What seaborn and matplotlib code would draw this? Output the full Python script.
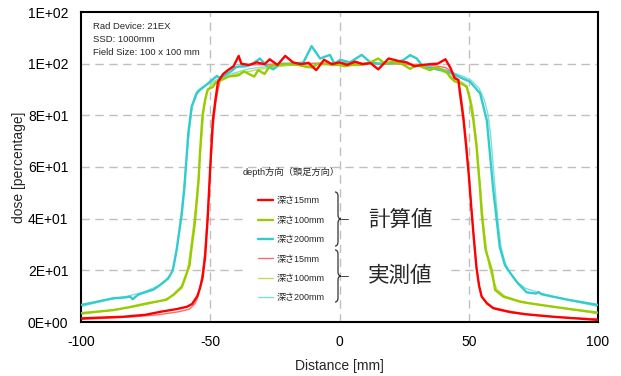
import numpy as np
import matplotlib
matplotlib.use("Agg")
import matplotlib.pyplot as plt
import seaborn as sns
from matplotlib.path import Path
from matplotlib.patches import PathPatch
from matplotlib.lines import Line2D
from matplotlib.ticker import FuncFormatter

sns.set_style("white")
plt.rcParams['font.family'] = ['Liberation Sans', 'Noto Sans CJK JP']
plt.rcParams['axes.unicode_minus'] = False

# ---- data (distance in mm, dose in %) ----
# computed (thick lines)
calc15_x = [-100, -90, -84, -75, -69, -63, -59, -57, -55, -54, -53, -52, -51, -50, -49, -48, -47, -45, -43,
            -41, -39, -38, -35, -32, -29, -27, -24, -21, -18, -15, -12, -9, -6, -3, 0, 3, 6, 9, 12, 15,
            19, 23, 26, 29, 32, 35, 38, 41, 43, 44.5, 46, 46.6, 47.3, 48, 49, 50, 51, 52, 53, 54, 55, 57,
            59.4, 66, 72, 83, 90, 100]
calc15_y = [1.4, 1.8, 2.0, 2.8, 4.0, 5.0, 5.9, 7.0, 10, 13, 17, 25, 40, 60, 78, 86, 93, 96, 97.6,
            99, 103, 100, 99.5, 100.5, 99.8, 101.7, 99.5, 103, 100.5, 99.8, 100.3, 97.5, 101.5, 99.8, 100.5, 99.5, 100.8, 99.8, 100.2, 97.8,
            102, 101, 100.5, 99, 99.5, 99.8, 100, 101.7, 98.2, 94.4, 93.7, 88.5, 83.4, 78, 68, 57, 44, 32, 21, 14, 9.8, 7.3,
            5.4, 3.9, 3.0, 2.0, 1.5, 0.8]

calc100_x = [-100, -87.5, -81, -74.6, -67, -64.3, -61, -59.1, -58, -57.2, -56, -55.2, -54.5, -54, -53, -52, -51,
             -49, -48, -46, -43, -39, -37, -33, -31.4, -29, -27, -24, -20, -16, -13, -10.5, -8.5, -5, -2, 0,
             2, 5, 8, 12, 15, 17.5, 20, 24, 27.3, 30, 35, 37.6, 41.5, 43, 44.7, 46.6, 49.2, 50.5, 51.8, 53,
             54.4, 55, 56.5, 58.9, 60.2, 63.4, 69.8, 72.4, 82.7, 90, 100]
calc100_y = [3.4, 4.6, 5.8, 7.2, 8.6, 10.5, 13.7, 18.9, 22, 29, 38, 47, 55, 65, 80, 86, 90,
             91, 92.5, 93.5, 95, 95.5, 97, 95, 97.5, 96, 99, 99.6, 99.8, 99.5, 98.8, 98.5, 100, 99.8, 99.5, 99.5,
             99, 99.5, 99.5, 100.5, 102, 100, 100.7, 100, 98, 99.5, 97.5, 98.5, 96.7, 94.5, 93.1, 92.5, 91.2, 86, 78, 68,
             51, 42, 28, 20.1, 12.4, 9.8, 7.9, 7.4, 5.9, 4.9, 3.6]

calc200_x = [-100, -94, -87.5, -83, -81, -80, -78, -75.9, -72, -69.4, -66.2, -64.5, -63, -61, -60, -58.5,
             -57.2, -55.2, -54, -50.8, -47.5, -46.2, -42, -39.8, -36, -33.5, -30.8, -28, -25.6, -23, -19, -14,
             -10.8, -7.5, -3.7, -2, 0.2, 4, 8.6, 11.8, 15, 18.3, 22, 24.7, 27.3, 29.9, 32.5, 35, 37.6, 41.5,
             44.7, 47.3, 50.5, 54.4, 57, 59.5, 62, 64, 65.3, 69, 72.4, 76, 77, 78, 82.6, 89, 100]
calc200_y = [6.6, 7.8, 9.2, 9.5, 9.8, 8.8, 10.5, 11.3, 12.5, 14.3, 16.9, 20, 28, 42, 52, 73,
             83.4, 88.5, 89.8, 92.4, 95.2, 94.5, 97, 98.8, 99, 100, 102, 99, 97.8, 100, 100, 100.4,
             106.8, 102, 103.4, 100, 101.5, 100.5, 103.4, 100.6, 100, 100, 100.5, 101.4, 103.3, 102, 98.5, 98.5, 97.8, 97,
             95.7, 94.4, 93, 88.5, 78, 51, 29, 22, 20, 15, 11.5, 11, 11.6, 10.8, 9.8, 8.5, 6.6]

# measured (thin lines)
meas15_x = [-100, -90, -80, -70, -62, -58, -56, -55, -54, -53, -52, -51, -50, -49, -48, -47, -46, -44, -41,
            -35, -20, 0, 20, 35, 41, 44, 46, 47, 48, 49, 50, 51, 52, 53, 54, 55, 57, 60, 66, 80, 90, 100]
meas15_y = [1.0, 1.5, 2.0, 2.8, 4.0, 5.0, 7.0, 9.0, 13, 19, 28, 42, 58, 74, 84, 90, 94, 97, 98.5,
            99.5, 100, 100.3, 100, 99.5, 98.5, 96.5, 93, 88, 80, 70, 58, 45, 32, 21, 14, 10, 7.0, 5.0, 3.6, 2.2, 1.6, 1.2]

meas100_x = [-100, -90, -80, -74, -68, -64, -61, -59.5, -58.5, -57.5, -56.5, -55.5, -54.5, -53.5, -52.5, -51.5,
             -50, -48, -45, -40, -35, -30, -20, 0, 20, 30, 38, 42, 45, 48, 50, 51.5, 53, 54, 55, 56, 57, 58,
             59.5, 61, 64, 70, 80, 90, 100]
meas100_y = [3.0, 4.3, 5.8, 7.0, 8.5, 10.5, 13, 17, 22, 29, 37, 46, 57, 70, 82, 88,
             91.5, 93, 94.5, 96, 97, 98, 99.3, 100, 100, 99.5, 98, 96, 94, 92.5, 89, 83, 70, 58, 46, 35, 27, 21,
             16, 12.5, 10, 8.0, 6.2, 4.8, 3.2]

meas200_x = [-100, -90, -82, -76, -70, -67, -65, -64, -63, -62, -61, -60, -59, -58, -57, -56, -55, -53, -50,
             -46, -42, -35, -25, 0, 25, 35, 40, 44, 48, 51, 54, 56, 57.5, 58.5, 59.5, 60.5, 61.5, 62.5, 64,
             66, 68, 72, 80, 90, 100]
meas200_y = [6.0, 8.5, 10, 11.5, 14, 16.5, 19, 22, 28, 35, 44, 54, 65, 75, 83, 87.5, 89.5, 91, 92.5,
             94.5, 96, 98, 99.3, 100, 100, 99, 98, 96.5, 95, 93.5, 90.5, 86, 80, 72, 60, 48, 37, 29, 23,
             19, 16, 13, 10.5, 8.2, 6.0]

depth_labels = ["深さ15mm", "深さ100mm", "深さ200mm"]
colors = ["#FF0000", "#99CC00", "#33CCCC"]
meas_colors = ["#FF6A6A", "#BEDD5A", "#7FDEDE"]

calc = [(calc15_x, calc15_y), (calc100_x, calc100_y), (calc200_x, calc200_y)]
meas = [(meas15_x, meas15_y), (meas100_x, meas100_y), (meas200_x, meas200_y)]

W, H = 621, 376
fig = plt.figure(figsize=(W / 100, H / 100), dpi=100)
ax = fig.add_axes([81 / W, 1 - 322 / H, 517 / W, 310 / H])


def fx(px):
    return px / W


def fy(py):
    return 1 - py / H


# grid (drawn first); the 20/40 lines are hidden behind the legend block
grid_kw = dict(color="#BFBFBF", lw=1.0, linestyle=(0, (6, 4)), zorder=0)
for gx in [-50, 0, 50]:
    ax.axvline(gx, **grid_kw)
for gy in [20, 40, 60, 80, 100]:
    if gy in (20, 40):
        ax.hlines(gy, -100, -37.3, **grid_kw)
        ax.hlines(gy, 43.1, 100, **grid_kw)
    else:
        ax.axhline(gy, **grid_kw)

for i in [2, 1, 0]:
    mx, my = meas[i]
    sns.lineplot(x=mx, y=my, color=meas_colors[i], lw=1.0, ax=ax, zorder=2)
for i in [2, 1, 0]:
    cx, cy = calc[i]
    sns.lineplot(x=cx, y=cy, color=colors[i], lw=1.7, ax=ax, zorder=3)

calc_handles = [Line2D([0], [0], color=c, lw=1.7) for c in colors]
meas_handles = [Line2D([0], [0], color=c, lw=1.0) for c in meas_colors]

ax.set_xlim(-100, 100)
ax.set_ylim(0, 120)
ax.set_xticks([-100, -50, 0, 50, 100])
ax.set_yticks([0, 20, 40, 60, 80, 100, 120])
ax.yaxis.set_major_formatter(FuncFormatter(lambda v, p: f"{v:.0E}"))
ax.tick_params(axis="both", direction="in", length=4, width=1, labelsize=10, colors="black", pad=9)
for s in ax.spines.values():
    s.set_color("black")
    s.set_linewidth(1.5)

ax.set_xlabel("Distance [mm]", fontsize=10)
ax.set_ylabel("dose [percentage]", fontsize=10)
ax.xaxis.set_label_coords(0.5, (322 - 359) / 310)
ax.yaxis.set_label_coords((26 - 81) / 517, 0.5)

fig.text(fx(93), fy(22), "Rad Device: 21EX\nSSD: 1000mm\nField Size: 100 x 100 mm",
         fontsize=6.8, va="top", ha="left", linespacing=1.55)

leg = ax.legend(calc_handles + meas_handles, depth_labels + depth_labels,
                title="depth方向（頭足方向）", title_fontsize=6.7, fontsize=6.5,
                frameon=False, loc="upper center",
                bbox_to_anchor=(fx(291), fy(167)), bbox_transform=fig.transFigure,
                borderaxespad=0, borderpad=0, handlelength=1.7, handletextpad=0.35,
                labelspacing=1.15)
leg._legend_box.sep = 14


def brace(px0, py0, py1, w=6, r=4):
    pm = (py0 + py1) / 2
    xm = px0 + w / 2
    pts = [(px0, py0), (xm, py0), (xm, py0 + r), (xm, pm - r), (xm, pm), (px0 + w, pm),
           (xm, pm), (xm, pm + r), (xm, py1 - r), (xm, py1), (px0, py1)]
    codes = [Path.MOVETO, Path.CURVE3, Path.CURVE3, Path.LINETO, Path.CURVE3, Path.CURVE3,
             Path.CURVE3, Path.CURVE3, Path.LINETO, Path.CURVE3, Path.CURVE3]
    verts = [(fx(a), fy(b)) for a, b in pts]
    fig.add_artist(PathPatch(Path(verts, codes), fill=False, lw=0.9, ec="#333333",
                             transform=fig.transFigure))
    fig.add_artist(Line2D([fx(px0 + w), fx(px0 + w + 7)], [fy(pm), fy(pm)], lw=0.7,
                          color="#444444", transform=fig.transFigure))


brace(335, 192, 246)
brace(335, 250, 302)

fig.text(fx(400), fy(220), "計算値", fontsize=15.5, ha="center", va="center",
         family="Noto Sans CJK JP")
fig.text(fx(400), fy(276), "実測値", fontsize=15.5, ha="center", va="center",
         family="Noto Sans CJK JP")

fig.savefig("out.png", dpi=100)
